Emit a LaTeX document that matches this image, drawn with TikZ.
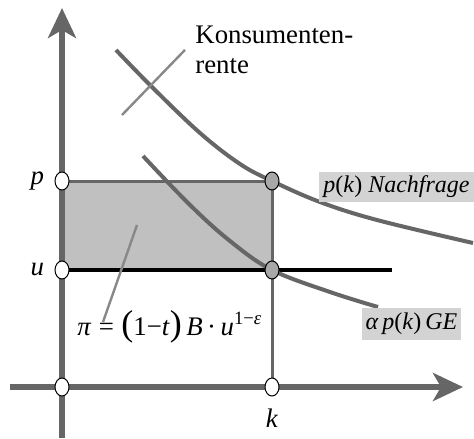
\documentclass[tikz,border=0pt]{standalone}
\usepackage{fontspec}
\setmainfont{Liberation Serif}
\usepackage{tikz}
\usetikzlibrary{arrows.meta,positioning,shapes.geometric}
\definecolor{axisgray}{HTML}{666666}
\definecolor{rectgray}{HTML}{C0C0C0}
\definecolor{boxgray}{HTML}{D3D3D3}
\definecolor{dotgray}{HTML}{A8A8A8}
\definecolor{pointgray}{HTML}{888888}

\begin{document}
\begin{tikzpicture}[
    x=0.5pt, y=-0.5pt,
    axis/.style={draw=axisgray, line width=3pt, -{Stealth[length=15pt, width=14pt, inset=4pt]}},
    curve/.style={draw=axisgray, line width=2pt},
    edge/.style={draw=axisgray, line width=1.5pt},
    pointer/.style={draw=pointgray, line width=1.2pt},
    opendot/.style={draw, ellipse, fill=white, line width=0.5pt, minimum width=7pt, minimum height=9pt, inner sep=0pt},
    greydot/.style={opendot, fill=dotgray},
    txt/.style={font=\fontsize{13.4}{14.6}\selectfont, inner sep=0pt},
    tag/.style={txt, font=\fontsize{12}{15}\selectfont, fill=boxgray, inner xsep=2pt, minimum height=15pt},
  ]
  \useasboundingbox (0,0) rectangle (474,438);

  \coordinate (pA) at (62,181);
  \coordinate (uA) at (62,270);
  \coordinate (oA) at (62,387);
  \coordinate (kA) at (272,387);
  \coordinate (pK) at (272,181);
  \coordinate (uK) at (272,270);
  \coordinate (ytop) at (62,8);
  \coordinate (ybot) at (62,438);
  \coordinate (xleft) at (10,387);
  \coordinate (xright) at (463,387);
  \coordinate (uend) at (392,270);

  \fill[rectgray] (pA) rectangle (uK);
  \draw[axis] (ybot) -- (ytop);
  \draw[axis] (xleft) -- (xright);
  \draw[edge] (pA) -- (pK) -- (kA);
  \draw[black, line width=2pt] (uA) -- (uend);

  \draw[curve] plot[smooth, tension=0.6] coordinates {(116,50) (152,87) (200,133) (240,164) (272,181) (320,202) (377,220) (473,243)};
  \draw[curve] plot[smooth, tension=0.6] coordinates {(143,156) (190,205) (230,241) (272,270) (330,292) (378,307)};

  \node[txt, anchor=north west, align=left] (ks) at (195,26) {Konsumenten-\\rente};
  \coordinate (kr) at (122,115);
  \draw[pointer] (kr) -- ([xshift=-5pt]ks.west);

  \node[txt, anchor=base west] (pi) at (77,335) {\textit{π}\;=\;{\fontsize{18}{18}\selectfont(}1−\textit{t}{\fontsize{18}{18}\selectfont)}\,\textit{B}\,·\,\textit{u}\textsuperscript{1−\textit{ε}}};
  \coordinate (piin) at (137,225);
  \coordinate (pitip) at (103,322);
  \draw[pointer] (piin) -- (pitip);

  \node[tag, anchor=east] (nf) at (474,187) {\textit{p}(\textit{k}) \textit{Nachfrage}};
  \node[tag, minimum height=16pt] (ge) at (411.5,324) {\textit{α\,p}(\textit{k})\,\textit{GE}};

  \node[opendot] (p0) at (pA) {};
  \node[opendot] (u0) at (uA) {};
  \node[opendot] (o0) at (oA) {};
  \node[opendot] (k0) at (kA) {};
  \node[greydot] (pk) at (pK) {};
  \node[greydot] (uk) at (uK) {};

  \node[txt, left=5pt of p0] (plab) {\textit{p}};
  \node[txt, left=5pt of u0] (ulab) {\textit{u}};
  \node[txt, below=6pt of k0] (klab) {\textit{k}};
\end{tikzpicture}
\end{document}
